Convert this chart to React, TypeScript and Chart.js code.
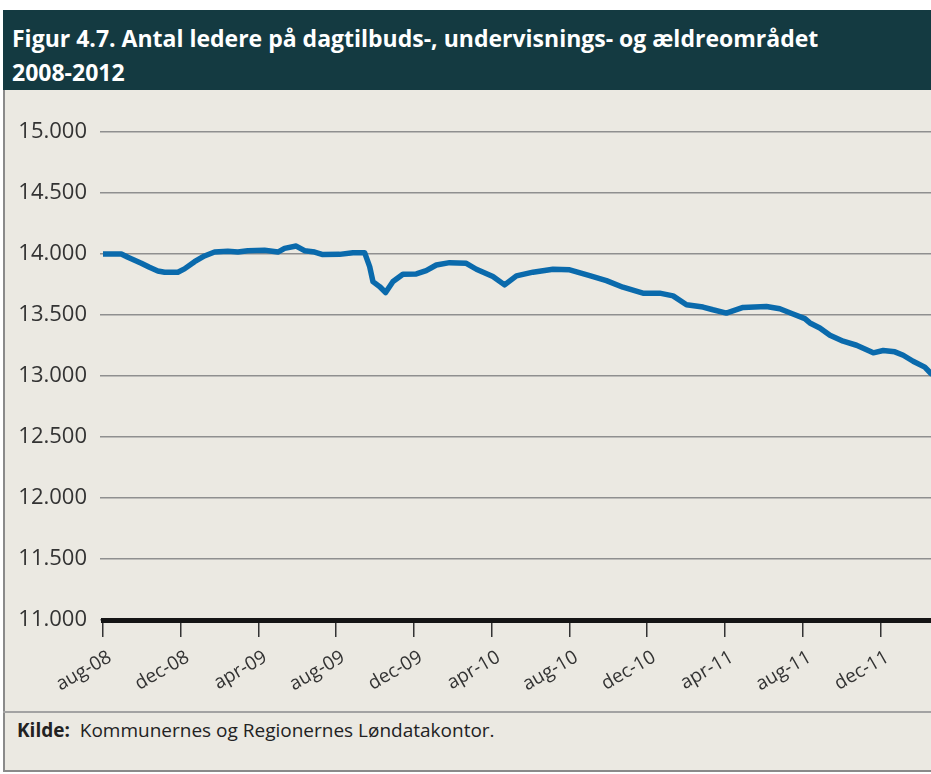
import React, { useEffect, useRef } from "react";
import { Chart, registerables } from "chart.js";

Chart.register(...registerables);

const titleLines = [
  "Figur 4.7. Antal ledere på dagtilbuds-, undervisnings- og ældreområdet",
  "2008-2012",
];
const sourceLabel = "Kilde:";
const sourceText = "Kommunernes og Regionernes Løndatakontor.";

// Time in months after August 2008
const months = [
  0, 0.94, 1.28, 1.97, 2.39, 2.82, 3.17, 3.85, 4.19, 4.71, 5.22, 5.74, 6.42, 6.94,
  7.45, 8.31, 9.0, 9.34, 9.94, 10.37, 10.89, 11.31, 12.17, 12.86, 13.46, 13.72,
  13.89, 14.23, 14.54, 14.92, 15.43, 16.12, 16.63, 17.15, 17.83, 18.69, 19.21,
  20.06, 20.66, 21.27, 22.12, 23.15, 24.01, 25.04, 25.9, 26.75, 27.78, 28.64,
  29.33, 30.02, 30.87, 31.38, 32.07, 32.93, 34.13, 34.82, 35.5, 36.11, 36.37,
  36.88, 37.4, 38.08, 38.77, 39.63, 40.14, 40.74, 41.17, 41.68, 42.28, 42.6,
];
// Number of leaders
const leaders = [
  14000, 14000, 13973, 13924, 13891, 13861, 13851, 13851, 13878, 13937, 13984,
  14016, 14022, 14016, 14027, 14030, 14016, 14046, 14065, 14027, 14016, 13995,
  13997, 14011, 14011, 13897, 13774, 13733, 13684, 13774, 13834, 13837, 13864,
  13910, 13929, 13924, 13875, 13815, 13747, 13821, 13851, 13875, 13870, 13823,
  13782, 13728, 13679, 13679, 13657, 13584, 13565, 13543, 13516, 13562, 13570,
  13551, 13508, 13470, 13435, 13394, 13334, 13285, 13252, 13190, 13209, 13198,
  13170, 13121, 13073, 13020,
];
const tickLabels = [
  "aug-08", "dec-08", "apr-09", "aug-09", "dec-09", "apr-10",
  "aug-10", "dec-10", "apr-11", "aug-11", "dec-11",
];
const monthsPerTick = 4;
const lastMonth = 42.6;
const yMin = 11000;
const yMax = 15000;
const yStep = 500;

const FONT = "'Open Sans', sans-serif";

const fmt = (v: number) => {
  const s = Math.round(v).toString();
  return s.length > 3 ? s.slice(0, -3) + "." + s.slice(-3) : s;
};

export default function App() {
  const ref = useRef<HTMLCanvasElement>(null);

  useEffect(() => {
    if (!ref.current) return;
    const chart = new Chart(ref.current, {
      type: "line",
      data: {
        datasets: [
          {
            data: months.map((m, i) => ({ x: m, y: leaders[i] })),
            borderColor: "#0a6aac",
            borderWidth: 5.5,
            pointRadius: 0,
            tension: 0,
            fill: false,
            borderJoinStyle: "round",
            borderCapStyle: "round",
          },
        ],
      },
      options: {
        animation: false,
        responsive: false,
        events: [],
        layout: { padding: { top: 42, left: 0, right: 0, bottom: 0 } },
        plugins: {
          legend: { display: false },
          tooltip: { enabled: false },
          title: { display: false },
        },
        scales: {
          x: {
            type: "linear",
            min: 0,
            max: lastMonth,
            afterFit: (s: any) => {
              s.height = 92;
            },
            grid: {
              drawOnChartArea: false,
              drawTicks: true,
              tickLength: 17,
              color: "#333333",
              lineWidth: 1.5,
            },
            border: { display: true, color: "#141414", width: 5 },
            ticks: {
              stepSize: monthsPerTick,
              includeBounds: false,
              autoSkip: false,
              minRotation: 30,
              maxRotation: 30,
              padding: 9,
              labelOffset: 7,
              color: "#333333",
              font: { family: FONT, size: 19 },
              callback: (v: any) => {
                const i = Number(v) / monthsPerTick;
                return Number.isInteger(i) && tickLabels[i] ? tickLabels[i] : null;
              },
            },
          },
          y: {
            min: yMin,
            max: yMax,
            afterFit: (s: any) => {
              s.width = 103;
            },
            grid: { color: "#8f8f8f", lineWidth: 1.5, tickLength: 3 },
            border: { display: false },
            ticks: {
              stepSize: yStep,
              padding: 13,
              color: "#333333",
              font: { family: FONT, size: 22 },
              callback: (v: any) => fmt(Number(v)),
            },
          },
        },
      },
    } as any);
    return () => chart.destroy();
  }, []);

  return (
    <div
      style={{
        position: "absolute",
        left: 0,
        top: 0,
        width: 931,
        height: 774,
        overflow: "hidden",
        background: "#ffffff",
        fontFamily: FONT,
      }}
    >
      <div
        style={{
          position: "absolute",
          left: 3,
          top: 10,
          width: 940,
          height: 760,
          background: "#ebe9e2",
          borderLeft: "2px solid #8a8a8a",
          borderBottom: "2px solid #8a8a8a",
        }}
      />
      <div
        style={{
          position: "absolute",
          left: 3,
          top: 10,
          width: 942,
          height: 80,
          background: "#143a41",
          color: "#ffffff",
          fontWeight: 700,
          fontSize: 23,
          lineHeight: "34px",
          paddingLeft: 9,
          paddingTop: 11,
          boxSizing: "border-box",
          whiteSpace: "nowrap",
        }}
      >
        {titleLines.map((t, i) => (
          <div key={i}>{t}</div>
        ))}
      </div>
      <canvas
        ref={ref}
        width={931}
        height={622}
        style={{ position: "absolute", left: 0, top: 90, width: 931, height: 622 }}
      />
      <div
        style={{
          position: "absolute",
          left: 3,
          top: 711,
          width: 940,
          height: 2,
          background: "#a3a3a3",
        }}
      />
      <div
        style={{
          position: "absolute",
          left: 17,
          top: 718,
          fontSize: 19,
          lineHeight: "24px",
          color: "#222222",
          whiteSpace: "nowrap",
        }}
      >
        <b>{sourceLabel}</b>
        {"\u00a0\u00a0" + sourceText}
      </div>
    </div>
  );
}
